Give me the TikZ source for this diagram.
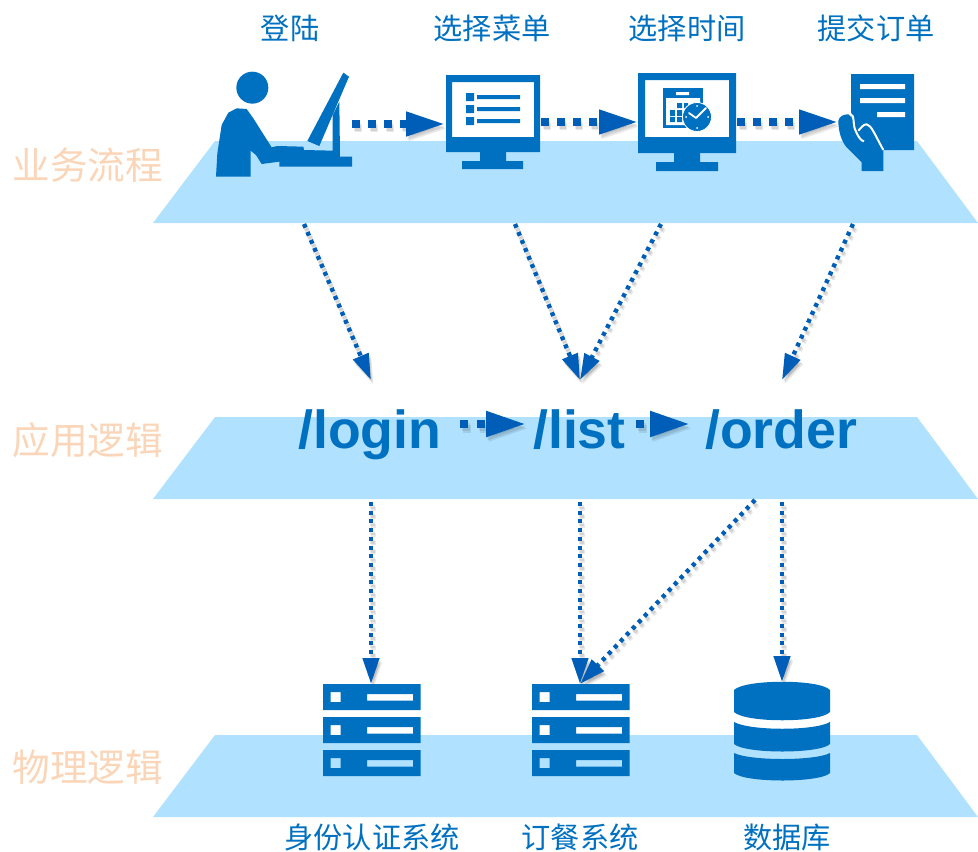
\documentclass[tikz,border=0pt]{standalone}
\usepackage{fontspec}
\usetikzlibrary{arrows.meta}
\setmainfont{Liberation Sans}
\newfontfamily\cjk{Noto Sans CJK SC}
\definecolor{plane}{HTML}{B0E2FF}
\definecolor{icon}{HTML}{0070C0}
\definecolor{arrowc}{HTML}{005EB8}
\definecolor{peach}{HTML}{FBD5B8}
\tikzset{
  planeshape/.style={fill=plane,draw=none},
  iconfill/.style={fill=icon,draw=none},
  toplabel/.style={inner sep=0pt,text=icon,font=\cjk\fontsize{29.2}{31}\selectfont},
  layerlabel/.style={inner sep=0pt,text=peach,font=\cjk\fontsize{37.6}{39}\selectfont},
  urltext/.style={inner sep=0pt,anchor=base west,text=icon,font=\fontsize{53.6}{55}\selectfont\bfseries},
  bigflow/.style={line width=7.5pt,dash pattern=on 7.5pt off 8.5pt,-{Triangle[length=39pt,width=23pt]}},
  midflow/.style={line width=8pt,dash pattern=on 8pt off 9pt,-{Triangle[length=40pt,width=24pt]}},
  thinflow/.style={line width=4.4pt,dash pattern=on 4pt off 4.7pt,-{Triangle[length=26pt,width=16pt]}},
  flow/.style={draw=arrowc},
  flowshade/.style={draw=black,opacity=.09}
}
\newcommand{\conn}[3]{%
  \draw[#1,flowshade,transform canvas={xshift=1.5pt,yshift=-3pt}] (#2) -- (#3);
  \draw[#1,flowshade,transform canvas={xshift=2.5pt,yshift=-4.5pt}] (#2) -- (#3);
  \draw[#1,flow] (#2) -- (#3);}
\newcommand{\serverrow}[2]{%
  \fill[iconfill,even odd rule] (#1,#2) rectangle ++(97.5,26)
    (#1+7.5,#2+8) rectangle ++(10,10)
    (#1+44,#2+10) rectangle ++(46,6.5);}
\newcommand{\serverstack}[1]{\serverrow{#1}{684}\serverrow{#1}{717}\serverrow{#1}{750}}
\begin{document}
\begin{tikzpicture}[x=1pt,y=-1pt]
\useasboundingbox (0,0) rectangle (978,852);
% layers
\fill[planeshape] (215,141) -- (917,141) -- (978,223) -- (153,223) -- cycle;
\fill[planeshape] (215,417) -- (917,417) -- (978,499) -- (153,499) -- cycle;
\fill[planeshape] (215,735) -- (917,735) -- (978,817) -- (153,817) -- cycle;
% labels
\node[toplabel] (tlogin) at (290,28) {登陆};
\node[toplabel] (tmenu) at (492,28) {选择菜单};
\node[toplabel] (ttime) at (687,28) {选择时间};
\node[toplabel] (tsubmit) at (876,28) {提交订单};
\node[layerlabel] (lbiz) at (88,165) {业务流程};
\node[layerlabel] (lapp) at (88,440) {应用逻辑};
\node[layerlabel] (lphy) at (88,767) {物理逻辑};
\node[toplabel] (sauth) at (372,837) {身份认证系统};
\node[toplabel] (sorder) at (580,837) {订餐系统};
\node[toplabel] (sdb) at (787,837) {数据库};
\node[urltext] (ulogin) at (298,448) {/login};
\node[urltext] (ulist) at (533,448) {/list};
\node[urltext] (uorder) at (705,448) {/order};
% connector ends
\coordinate (p1) at (352,124); \coordinate (m1w) at (445,124);
\coordinate (m1e) at (541,122); \coordinate (m2w) at (638,122);
\coordinate (m2e) at (737,122); \coordinate (dw) at (838,122);
\coordinate (a1) at (304,224); \coordinate (loginin) at (371,380);
\coordinate (a2) at (515,224); \coordinate (listin) at (580,380);
\coordinate (a3) at (661,224);
\coordinate (a4) at (853,224); \coordinate (orderin) at (782,380);
\coordinate (ul1) at (460,424); \coordinate (ul2) at (526,424);
\coordinate (ul3) at (636,424); \coordinate (ul4) at (690,424);
\coordinate (b1) at (371,502); \coordinate (srv1) at (371,684);
\coordinate (b2) at (580,502); \coordinate (srv2) at (580,684);
\coordinate (b3) at (755,500);
\coordinate (b4) at (782,502); \coordinate (dbin) at (782,682);
% connectors
\conn{bigflow}{p1}{m1w}
\conn{bigflow}{m1e}{m2w}
\conn{bigflow}{m2e}{dw}
\conn{thinflow}{a1}{loginin}
\conn{thinflow}{a2}{listin}
\conn{thinflow}{a3}{listin}
\conn{thinflow}{a4}{orderin}
\conn{midflow}{ul1}{ul2}
\conn{midflow}{ul3}{ul4}
\conn{thinflow}{b1}{srv1}
\conn{thinflow}{b2}{srv2}
\conn{thinflow}{b3}{srv2}
\conn{thinflow}{b4}{dbin}
% person at computer
\begin{scope}[xshift=200pt,yshift=-60pt,x=.33333pt,y=-.33333pt]
\fill[iconfill] (157,83) circle [radius=48];
\fill[iconfill] (48,350) -- (52,280) -- (65,195) -- (85,158) -- (110,145) -- (140,147) -- (160,175) -- (215,262) -- (232,258) -- (310,260) -- (312,270) -- (398,272) -- (398,165) -- (418,125) -- (420,290) -- (456,290) -- (456,320) -- (238,320) -- (238,305) -- (185,312) -- (168,285) -- (152,272) -- (152,350) -- cycle;
\fill[iconfill] (322,243) -- (358,258) -- (447,50) -- (430,38) -- cycle;
\end{scope}
% menu monitor
\fill[iconfill,even odd rule] (446,75) rectangle (540,152) (452,82) rectangle (534,137);
\fill[iconfill] (480,152) rectangle (506,161) (462,161) rectangle (523,169);
\fill[iconfill] (466,93) rectangle (474,101) (466,105) rectangle (474,113) (466,117) rectangle (474,125);
\fill[iconfill] (477,95) rectangle (520,99) (477,107) rectangle (520,111) (477,119) rectangle (520,123);
% time monitor
\fill[iconfill,even odd rule] (638,73) rectangle (736,153) (645,80) rectangle (729,137);
\fill[iconfill] (674,153) rectangle (700,162) (656,162) rectangle (718,171);
\fill[iconfill] (663,88) rectangle (703,128);
\fill[white] (666,98) rectangle (700,125) (676,92) rectangle (689,95);
\fill[iconfill] (677,103) rectangle (682,108) (684,103) rectangle (688,108)
  (670,110) rectangle (675,116) (677,110) rectangle (682,116)
  (670,117) rectangle (675,122) (677,117) rectangle (682,122);
\fill[iconfill,draw=white,line width=.8pt] (697,117) circle [radius=14.5];
\draw[white,line width=1.8pt,line cap=round,line join=round] (689,113) -- (696,118) -- (706,108);
\fill[white] (697,106) circle [radius=1] (697,128) circle [radius=1] (686,117) circle [radius=1] (708,117) circle [radius=1];
% document in hand
\fill[iconfill] (851,74) -- (914,74) -- (914,150) -- (883,150) -- (862,135) -- (851,116) -- cycle;
\fill[white] (860,84) rectangle (905,89) (860,98) rectangle (905,103) (877,112) rectangle (905,117);
\begin{scope}[xshift=830pt,yshift=-100pt,x=.33333pt,y=-.33333pt]
\fill[iconfill] (25,62) .. controls (28,50) and (40,42) .. (55,43) -- (72,60) -- (110,73) -- (125,85) -- (160,150) -- (160,213) -- (95,213) -- (95,187) -- (50,142) .. controls (35,125) and (25,95) .. (25,62) -- cycle;
\draw[white,line width=2pt] (60,40) .. controls (78,50) and (65,70) .. (78,95) .. controls (85,110) and (92,122) .. (102,124);
\draw[white,line width=2pt] (85,92) .. controls (92,85) and (100,72) .. (110,73) .. controls (125,78) and (130,95) .. (160,150);
\end{scope}
% servers
\serverstack{323}
\serverstack{532}
% database
\fill[iconfill] (734,690) .. controls (745,679) and (820,679) .. (830,690) -- (830,712) .. controls (820,723) and (745,723) .. (734,712) -- cycle;
\fill[iconfill] (734,722) .. controls (750,731) and (815,731) .. (830,722) -- (830,744) .. controls (820,754) and (745,754) .. (734,744) -- cycle;
\fill[iconfill] (734,753) .. controls (750,761) and (815,761) .. (830,753) -- (830,773) .. controls (820,783) and (745,783) .. (734,773) -- cycle;
\end{tikzpicture}
\end{document}
